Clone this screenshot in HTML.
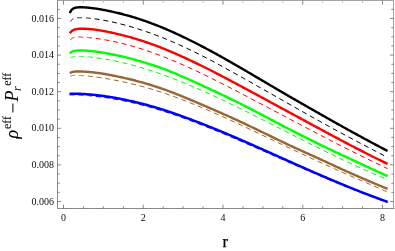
<!DOCTYPE html>
<html><head><meta charset="utf-8"><title>plot</title>
<style>
html,body{margin:0;padding:0;background:#fff;}
body{width:395px;height:251px;overflow:hidden;font-family:"Liberation Serif",serif;}
svg{display:block;font-family:"Liberation Serif",serif;will-change:transform;}
</style></head><body>
<svg width="395" height="251" viewBox="0 0 395 251">
<rect width="395" height="251" fill="#fff"/>
<g><path d="M69.90 13.13 L70.15 12.43 L70.40 11.83 L70.65 11.32 L70.90 10.87 L71.15 10.47 L71.40 10.13 L71.65 9.83 L71.90 9.56 L72.15 9.32 L72.40 9.11 L72.65 8.92 L72.90 8.75 L73.15 8.60 L73.40 8.46 L73.65 8.34 L73.90 8.23 L74.15 8.13 L74.40 8.04 L74.65 7.96 L74.90 7.88 L75.15 7.81 L75.40 7.75 L75.65 7.69 L75.90 7.64 L76.15 7.60 L76.40 7.56 L76.65 7.52 L76.90 7.48 L77.15 7.45 L77.40 7.42 L77.65 7.40 L77.90 7.38 L78.15 7.36 L78.40 7.34 L78.65 7.32 L78.90 7.31 L79.15 7.30 L79.40 7.29 L79.65 7.28 L79.90 7.28 L80.15 7.27 L80.40 7.27 L80.65 7.27 L80.90 7.27 L81.15 7.27 L81.40 7.27 L81.65 7.28 L81.90 7.28 L82.15 7.29 L82.40 7.30 L82.65 7.30 L82.90 7.31 L83.15 7.32 L83.40 7.33 L83.65 7.34 L83.90 7.35 L84.15 7.37 L84.40 7.38 L84.65 7.40 L84.90 7.41 L85.15 7.43 L85.40 7.44 L85.65 7.46 L85.90 7.48 L86.15 7.50 L86.40 7.51 L86.65 7.53 L86.90 7.55 L87.15 7.58 L87.40 7.60 L87.65 7.62 L87.90 7.64 L88.15 7.66 L88.40 7.69 L88.65 7.71 L88.90 7.74 L89.15 7.76 L89.40 7.79 L89.65 7.81 L89.90 7.84 L90.00 7.85 L91.00 7.96 L92.00 8.08 L93.00 8.21 L94.00 8.34 L95.00 8.48 L96.00 8.63 L97.00 8.78 L98.00 8.94 L99.00 9.10 L100.00 9.27 L101.00 9.45 L102.00 9.62 L103.00 9.81 L104.00 10.00 L105.00 10.19 L106.00 10.39 L107.00 10.59 L108.00 10.80 L109.00 11.01 L110.00 11.22 L111.00 11.44 L112.00 11.66 L113.00 11.88 L114.00 12.11 L115.00 12.34 L116.00 12.57 L117.00 12.81 L118.00 13.04 L119.00 13.28 L120.00 13.53 L121.00 13.77 L122.00 14.02 L123.00 14.28 L124.00 14.54 L125.00 14.80 L126.00 15.07 L127.00 15.34 L128.00 15.62 L129.00 15.90 L130.00 16.19 L131.00 16.48 L132.00 16.77 L133.00 17.07 L134.00 17.38 L135.00 17.68 L136.00 17.99 L137.00 18.31 L138.00 18.63 L139.00 18.95 L140.00 19.28 L141.00 19.61 L142.00 19.95 L143.00 20.29 L144.00 20.63 L145.00 20.98 L146.00 21.33 L147.00 21.69 L148.00 22.05 L149.00 22.41 L150.00 22.78 L151.00 23.15 L152.00 23.52 L153.00 23.90 L154.00 24.28 L155.00 24.67 L156.00 25.06 L157.00 25.45 L158.00 25.85 L159.00 26.25 L160.00 26.65 L161.00 27.06 L162.00 27.47 L163.00 27.88 L164.00 28.30 L165.00 28.72 L166.00 29.14 L167.00 29.57 L168.00 30.00 L169.00 30.44 L170.00 30.87 L171.00 31.31 L172.00 31.75 L173.00 32.20 L174.00 32.65 L175.00 33.10 L176.00 33.56 L177.00 34.02 L178.00 34.48 L179.00 34.94 L180.00 35.41 L181.00 35.88 L182.00 36.35 L183.00 36.82 L184.00 37.30 L185.00 37.78 L186.00 38.27 L187.00 38.75 L188.00 39.24 L189.00 39.73 L190.00 40.23 L191.00 40.72 L192.00 41.22 L193.00 41.72 L194.00 42.23 L195.00 42.73 L196.00 43.24 L197.00 43.75 L198.00 44.26 L199.00 44.78 L200.00 45.30 L201.00 45.82 L202.00 46.34 L203.00 46.86 L204.00 47.39 L205.00 47.92 L206.00 48.45 L207.00 48.98 L208.00 49.51 L209.00 50.05 L210.00 50.59 L211.00 51.13 L212.00 51.67 L213.00 52.22 L214.00 52.76 L215.00 53.31 L216.00 53.86 L217.00 54.42 L218.00 54.97 L219.00 55.52 L220.00 56.08 L221.00 56.64 L222.00 57.20 L223.00 57.76 L224.00 58.32 L225.00 58.89 L226.00 59.45 L227.00 60.02 L228.00 60.59 L229.00 61.16 L230.00 61.73 L231.00 62.30 L232.00 62.87 L233.00 63.45 L234.00 64.02 L235.00 64.60 L236.00 65.18 L237.00 65.75 L238.00 66.33 L239.00 66.91 L240.00 67.49 L241.00 68.07 L242.00 68.65 L243.00 69.24 L244.00 69.82 L245.00 70.40 L246.00 70.99 L247.00 71.57 L248.00 72.16 L249.00 72.74 L250.00 73.33 L251.00 73.91 L252.00 74.50 L253.00 75.08 L254.00 75.67 L255.00 76.26 L256.00 76.84 L257.00 77.43 L258.00 78.02 L259.00 78.61 L260.00 79.19 L261.00 79.78 L262.00 80.37 L263.00 80.96 L264.00 81.55 L265.00 82.13 L266.00 82.72 L267.00 83.31 L268.00 83.90 L269.00 84.49 L270.00 85.07 L271.00 85.66 L272.00 86.25 L273.00 86.84 L274.00 87.43 L275.00 88.01 L276.00 88.60 L277.00 89.19 L278.00 89.78 L279.00 90.36 L280.00 90.95 L281.00 91.54 L282.00 92.12 L283.00 92.71 L284.00 93.29 L285.00 93.88 L286.00 94.46 L287.00 95.04 L288.00 95.63 L289.00 96.20 L290.00 96.78 L291.00 97.36 L292.00 97.94 L293.00 98.51 L294.00 99.09 L295.00 99.66 L296.00 100.23 L297.00 100.81 L298.00 101.38 L299.00 101.95 L300.00 102.52 L301.00 103.10 L302.00 103.67 L303.00 104.24 L304.00 104.81 L305.00 105.39 L306.00 105.96 L307.00 106.53 L308.00 107.11 L309.00 107.68 L310.00 108.25 L311.00 108.82 L312.00 109.39 L313.00 109.96 L314.00 110.53 L315.00 111.10 L316.00 111.67 L317.00 112.24 L318.00 112.81 L319.00 113.38 L320.00 113.95 L321.00 114.52 L322.00 115.09 L323.00 115.66 L324.00 116.23 L325.00 116.80 L326.00 117.37 L327.00 117.94 L328.00 118.50 L329.00 119.07 L330.00 119.64 L331.00 120.20 L332.00 120.77 L333.00 121.33 L334.00 121.90 L335.00 122.46 L336.00 123.02 L337.00 123.58 L338.00 124.14 L339.00 124.70 L340.00 125.26 L341.00 125.82 L342.00 126.38 L343.00 126.94 L344.00 127.49 L345.00 128.05 L346.00 128.60 L347.00 129.16 L348.00 129.71 L349.00 130.26 L350.00 130.81 L351.00 131.36 L352.00 131.91 L353.00 132.46 L354.00 133.00 L355.00 133.55 L356.00 134.10 L357.00 134.64 L358.00 135.19 L359.00 135.73 L360.00 136.27 L361.00 136.81 L362.00 137.35 L363.00 137.90 L364.00 138.44 L365.00 138.97 L366.00 139.51 L367.00 140.05 L368.00 140.59 L369.00 141.13 L370.00 141.66 L371.00 142.20 L372.00 142.73 L373.00 143.27 L374.00 143.80 L375.00 144.33 L376.00 144.87 L377.00 145.40 L378.00 145.93 L379.00 146.46 L380.00 146.99 L381.00 147.53 L382.00 148.06 L383.00 148.59 L384.00 149.11 L385.00 149.64 L386.00 150.17 L387.00 150.70 L387.60 151.02" fill="none" stroke="#000000" stroke-width="2.4" stroke-linejoin="round"/><path d="M70.40 21.42 L70.65 21.06 L70.90 20.74 L71.15 20.46 L71.40 20.20 L71.65 19.97 L71.90 19.76 L72.15 19.57 L72.40 19.40 L72.65 19.24 L72.90 19.10 L73.15 18.97 L73.40 18.85 L73.65 18.74 L73.90 18.64 L74.15 18.55 L74.40 18.46 L74.65 18.39 L74.90 18.32 L75.15 18.25 L75.40 18.19 L75.65 18.14 L75.90 18.09 L76.15 18.05 L76.40 18.00 L76.65 17.97 L76.90 17.93 L77.15 17.90 L77.40 17.87 L77.65 17.85 L77.90 17.83 L78.15 17.81 L78.40 17.79 L78.65 17.77 L78.90 17.76 L79.15 17.75 L79.40 17.74 L79.65 17.73 L79.90 17.72 L80.15 17.72 L80.40 17.71 L80.65 17.71 L80.90 17.71 L81.15 17.71 L81.40 17.71 L81.65 17.71 L81.90 17.72 L82.15 17.72 L82.40 17.73 L82.65 17.74 L82.90 17.74 L83.15 17.75 L83.40 17.76 L83.65 17.77 L83.90 17.78 L84.15 17.80 L84.40 17.81 L84.65 17.82 L84.90 17.84 L85.15 17.85 L85.40 17.87 L85.65 17.88 L85.90 17.90 L86.15 17.92 L86.40 17.93 L86.65 17.95 L86.90 17.97 L87.15 17.99 L87.40 18.01 L87.65 18.03 L87.90 18.05 L88.15 18.08 L88.40 18.10 L88.65 18.12 L88.90 18.14 L89.15 18.17 L89.40 18.19 L89.65 18.22 L89.90 18.24 L90.00 18.25 L91.00 18.36 L92.00 18.47 L93.00 18.59 L94.00 18.72 L95.00 18.85 L96.00 18.99 L97.00 19.13 L98.00 19.28 L99.00 19.44 L100.00 19.60 L101.00 19.77 L102.00 19.94 L103.00 20.12 L104.00 20.30 L105.00 20.48 L106.00 20.68 L107.00 20.87 L108.00 21.07 L109.00 21.28 L110.00 21.49 L111.00 21.70 L112.00 21.92 L113.00 22.14 L114.00 22.37 L115.00 22.60 L116.00 22.83 L117.00 23.07 L118.00 23.31 L119.00 23.56 L120.00 23.81 L121.00 24.06 L122.00 24.32 L123.00 24.58 L124.00 24.84 L125.00 25.11 L126.00 25.38 L127.00 25.65 L128.00 25.93 L129.00 26.21 L130.00 26.50 L131.00 26.78 L132.00 27.07 L133.00 27.37 L134.00 27.67 L135.00 27.97 L136.00 28.28 L137.00 28.58 L138.00 28.90 L139.00 29.22 L140.00 29.54 L141.00 29.86 L142.00 30.19 L143.00 30.52 L144.00 30.85 L145.00 31.19 L146.00 31.54 L147.00 31.88 L148.00 32.23 L149.00 32.58 L150.00 32.94 L151.00 33.30 L152.00 33.66 L153.00 34.03 L154.00 34.40 L155.00 34.77 L156.00 35.15 L157.00 35.53 L158.00 35.92 L159.00 36.30 L160.00 36.69 L161.00 37.09 L162.00 37.48 L163.00 37.88 L164.00 38.29 L165.00 38.69 L166.00 39.10 L167.00 39.52 L168.00 39.93 L169.00 40.35 L170.00 40.77 L171.00 41.20 L172.00 41.62 L173.00 42.06 L174.00 42.49 L175.00 42.93 L176.00 43.37 L177.00 43.81 L178.00 44.25 L179.00 44.70 L180.00 45.15 L181.00 45.61 L182.00 46.06 L183.00 46.52 L184.00 46.98 L185.00 47.45 L186.00 47.91 L187.00 48.38 L188.00 48.86 L189.00 49.33 L190.00 49.81 L191.00 50.29 L192.00 50.77 L193.00 51.26 L194.00 51.74 L195.00 52.23 L196.00 52.72 L197.00 53.22 L198.00 53.71 L199.00 54.21 L200.00 54.71 L201.00 55.22 L202.00 55.72 L203.00 56.23 L204.00 56.74 L205.00 57.25 L206.00 57.76 L207.00 58.28 L208.00 58.80 L209.00 59.32 L210.00 59.84 L211.00 60.36 L212.00 60.89 L213.00 61.42 L214.00 61.95 L215.00 62.49 L216.00 63.04 L217.00 63.59 L218.00 64.14 L219.00 64.69 L220.00 65.25 L221.00 65.81 L222.00 66.37 L223.00 66.92 L224.00 67.48 L225.00 68.04 L226.00 68.59 L227.00 69.14 L228.00 69.69 L229.00 70.23 L230.00 70.78 L231.00 71.33 L232.00 71.88 L233.00 72.44 L234.00 72.99 L235.00 73.54 L236.00 74.09 L237.00 74.64 L238.00 75.20 L239.00 75.75 L240.00 76.31 L241.00 76.86 L242.00 77.42 L243.00 77.98 L244.00 78.54 L245.00 79.09 L246.00 79.65 L247.00 80.21 L248.00 80.77 L249.00 81.33 L250.00 81.89 L251.00 82.45 L252.00 83.02 L253.00 83.58 L254.00 84.14 L255.00 84.71 L256.00 85.27 L257.00 85.84 L258.00 86.40 L259.00 86.97 L260.00 87.54 L261.00 88.11 L262.00 88.67 L263.00 89.24 L264.00 89.81 L265.00 90.38 L266.00 90.94 L267.00 91.51 L268.00 92.08 L269.00 92.64 L270.00 93.21 L271.00 93.78 L272.00 94.35 L273.00 94.91 L274.00 95.48 L275.00 96.05 L276.00 96.61 L277.00 97.18 L278.00 97.75 L279.00 98.31 L280.00 98.88 L281.00 99.45 L282.00 100.01 L283.00 100.58 L284.00 101.14 L285.00 101.71 L286.00 102.28 L287.00 102.84 L288.00 103.41 L289.00 103.98 L290.00 104.54 L291.00 105.11 L292.00 105.67 L293.00 106.24 L294.00 106.81 L295.00 107.37 L296.00 107.94 L297.00 108.50 L298.00 109.07 L299.00 109.64 L300.00 110.20 L301.00 110.77 L302.00 111.33 L303.00 111.90 L304.00 112.47 L305.00 113.03 L306.00 113.60 L307.00 114.16 L308.00 114.72 L309.00 115.29 L310.00 115.85 L311.00 116.41 L312.00 116.97 L313.00 117.53 L314.00 118.09 L315.00 118.65 L316.00 119.21 L317.00 119.77 L318.00 120.32 L319.00 120.88 L320.00 121.44 L321.00 121.99 L322.00 122.54 L323.00 123.10 L324.00 123.65 L325.00 124.20 L326.00 124.75 L327.00 125.30 L328.00 125.85 L329.00 126.40 L330.00 126.95 L331.00 127.49 L332.00 128.04 L333.00 128.59 L334.00 129.13 L335.00 129.67 L336.00 130.22 L337.00 130.76 L338.00 131.30 L339.00 131.84 L340.00 132.38 L341.00 132.92 L342.00 133.46 L343.00 134.00 L344.00 134.53 L345.00 135.07 L346.00 135.61 L347.00 136.14 L348.00 136.67 L349.00 137.21 L350.00 137.74 L351.00 138.27 L352.00 138.80 L353.00 139.34 L354.00 139.87 L355.00 140.40 L356.00 140.92 L357.00 141.45 L358.00 141.98 L359.00 142.51 L360.00 143.04 L361.00 143.56 L362.00 144.09 L363.00 144.61 L364.00 145.14 L365.00 145.66 L366.00 146.19 L367.00 146.71 L368.00 147.23 L369.00 147.76 L370.00 148.28 L371.00 148.80 L372.00 149.33 L373.00 149.85 L374.00 150.37 L375.00 150.89 L376.00 151.41 L377.00 151.93 L378.00 152.46 L379.00 152.98 L380.00 153.50 L381.00 154.02 L382.00 154.54 L383.00 155.06 L384.00 155.58 L385.00 156.11 L386.00 156.63 L387.00 157.15 L387.60 157.46" fill="none" stroke="#000000" stroke-width="1.0" stroke-dasharray="5.0 3.8" stroke-dashoffset="1.0" stroke-linejoin="round"/><path d="M69.90 33.33 L70.15 32.90 L70.40 32.51 L70.65 32.16 L70.90 31.85 L71.15 31.57 L71.40 31.33 L71.65 31.11 L71.90 30.92 L72.15 30.74 L72.40 30.58 L72.65 30.43 L72.90 30.30 L73.15 30.17 L73.40 30.06 L73.65 29.95 L73.90 29.85 L74.15 29.76 L74.40 29.68 L74.65 29.59 L74.90 29.52 L75.15 29.45 L75.40 29.38 L75.65 29.32 L75.90 29.26 L76.15 29.20 L76.40 29.15 L76.65 29.10 L76.90 29.06 L77.15 29.02 L77.40 28.98 L77.65 28.94 L77.90 28.91 L78.15 28.88 L78.40 28.85 L78.65 28.82 L78.90 28.80 L79.15 28.78 L79.40 28.76 L79.65 28.75 L79.90 28.73 L80.15 28.72 L80.40 28.71 L80.65 28.71 L80.90 28.70 L81.15 28.70 L81.40 28.69 L81.65 28.69 L81.90 28.69 L82.15 28.69 L82.40 28.69 L82.65 28.69 L82.90 28.69 L83.15 28.70 L83.40 28.70 L83.65 28.71 L83.90 28.71 L84.15 28.72 L84.40 28.73 L84.65 28.74 L84.90 28.75 L85.15 28.76 L85.40 28.77 L85.65 28.78 L85.90 28.79 L86.15 28.81 L86.40 28.82 L86.65 28.83 L86.90 28.85 L87.15 28.87 L87.40 28.88 L87.65 28.90 L87.90 28.92 L88.15 28.94 L88.40 28.96 L88.65 28.98 L88.90 29.00 L89.15 29.02 L89.40 29.04 L89.65 29.06 L89.90 29.09 L90.00 29.09 L91.00 29.19 L92.00 29.30 L93.00 29.41 L94.00 29.53 L95.00 29.66 L96.00 29.80 L97.00 29.94 L98.00 30.09 L99.00 30.24 L100.00 30.40 L101.00 30.57 L102.00 30.74 L103.00 30.92 L104.00 31.10 L105.00 31.28 L106.00 31.48 L107.00 31.67 L108.00 31.87 L109.00 32.07 L110.00 32.28 L111.00 32.50 L112.00 32.71 L113.00 32.93 L114.00 33.15 L115.00 33.38 L116.00 33.61 L117.00 33.84 L118.00 34.07 L119.00 34.31 L120.00 34.55 L121.00 34.79 L122.00 35.04 L123.00 35.29 L124.00 35.55 L125.00 35.81 L126.00 36.07 L127.00 36.34 L128.00 36.61 L129.00 36.89 L130.00 37.17 L131.00 37.45 L132.00 37.74 L133.00 38.03 L134.00 38.32 L135.00 38.62 L136.00 38.92 L137.00 39.23 L138.00 39.54 L139.00 39.85 L140.00 40.17 L141.00 40.49 L142.00 40.81 L143.00 41.14 L144.00 41.47 L145.00 41.81 L146.00 42.15 L147.00 42.49 L148.00 42.84 L149.00 43.18 L150.00 43.54 L151.00 43.89 L152.00 44.25 L153.00 44.61 L154.00 44.98 L155.00 45.35 L156.00 45.72 L157.00 46.10 L158.00 46.48 L159.00 46.86 L160.00 47.24 L161.00 47.63 L162.00 48.03 L163.00 48.42 L164.00 48.82 L165.00 49.23 L166.00 49.63 L167.00 50.04 L168.00 50.45 L169.00 50.87 L170.00 51.29 L171.00 51.71 L172.00 52.14 L173.00 52.56 L174.00 53.00 L175.00 53.43 L176.00 53.87 L177.00 54.31 L178.00 54.75 L179.00 55.19 L180.00 55.64 L181.00 56.09 L182.00 56.54 L183.00 57.00 L184.00 57.45 L185.00 57.91 L186.00 58.37 L187.00 58.84 L188.00 59.30 L189.00 59.77 L190.00 60.24 L191.00 60.72 L192.00 61.19 L193.00 61.67 L194.00 62.14 L195.00 62.62 L196.00 63.11 L197.00 63.59 L198.00 64.07 L199.00 64.56 L200.00 65.05 L201.00 65.54 L202.00 66.03 L203.00 66.52 L204.00 67.02 L205.00 67.51 L206.00 68.01 L207.00 68.51 L208.00 69.01 L209.00 69.51 L210.00 70.02 L211.00 70.53 L212.00 71.03 L213.00 71.54 L214.00 72.05 L215.00 72.57 L216.00 73.08 L217.00 73.60 L218.00 74.11 L219.00 74.63 L220.00 75.15 L221.00 75.67 L222.00 76.19 L223.00 76.72 L224.00 77.24 L225.00 77.76 L226.00 78.29 L227.00 78.82 L228.00 79.35 L229.00 79.87 L230.00 80.40 L231.00 80.93 L232.00 81.47 L233.00 82.00 L234.00 82.53 L235.00 83.06 L236.00 83.60 L237.00 84.13 L238.00 84.67 L239.00 85.20 L240.00 85.74 L241.00 86.28 L242.00 86.81 L243.00 87.35 L244.00 87.89 L245.00 88.42 L246.00 88.96 L247.00 89.50 L248.00 90.04 L249.00 90.58 L250.00 91.11 L251.00 91.65 L252.00 92.19 L253.00 92.73 L254.00 93.27 L255.00 93.80 L256.00 94.34 L257.00 94.88 L258.00 95.42 L259.00 95.96 L260.00 96.50 L261.00 97.04 L262.00 97.58 L263.00 98.12 L264.00 98.66 L265.00 99.20 L266.00 99.74 L267.00 100.28 L268.00 100.82 L269.00 101.36 L270.00 101.90 L271.00 102.44 L272.00 102.98 L273.00 103.53 L274.00 104.07 L275.00 104.61 L276.00 105.15 L277.00 105.70 L278.00 106.24 L279.00 106.78 L280.00 107.33 L281.00 107.87 L282.00 108.42 L283.00 108.96 L284.00 109.51 L285.00 110.05 L286.00 110.59 L287.00 111.14 L288.00 111.68 L289.00 112.23 L290.00 112.77 L291.00 113.31 L292.00 113.85 L293.00 114.40 L294.00 114.94 L295.00 115.48 L296.00 116.02 L297.00 116.56 L298.00 117.10 L299.00 117.64 L300.00 118.18 L301.00 118.72 L302.00 119.26 L303.00 119.80 L304.00 120.34 L305.00 120.88 L306.00 121.42 L307.00 121.96 L308.00 122.50 L309.00 123.04 L310.00 123.58 L311.00 124.12 L312.00 124.66 L313.00 125.20 L314.00 125.74 L315.00 126.28 L316.00 126.82 L317.00 127.36 L318.00 127.89 L319.00 128.43 L320.00 128.97 L321.00 129.51 L322.00 130.05 L323.00 130.60 L324.00 131.14 L325.00 131.68 L326.00 132.21 L327.00 132.75 L328.00 133.29 L329.00 133.83 L330.00 134.37 L331.00 134.90 L332.00 135.44 L333.00 135.98 L334.00 136.51 L335.00 137.05 L336.00 137.58 L337.00 138.11 L338.00 138.65 L339.00 139.18 L340.00 139.71 L341.00 140.24 L342.00 140.77 L343.00 141.30 L344.00 141.82 L345.00 142.35 L346.00 142.88 L347.00 143.40 L348.00 143.93 L349.00 144.45 L350.00 144.97 L351.00 145.50 L352.00 146.02 L353.00 146.54 L354.00 147.06 L355.00 147.57 L356.00 148.09 L357.00 148.61 L358.00 149.12 L359.00 149.64 L360.00 150.15 L361.00 150.66 L362.00 151.17 L363.00 151.68 L364.00 152.19 L365.00 152.70 L366.00 153.21 L367.00 153.71 L368.00 154.22 L369.00 154.72 L370.00 155.22 L371.00 155.73 L372.00 156.23 L373.00 156.73 L374.00 157.22 L375.00 157.72 L376.00 158.22 L377.00 158.71 L378.00 159.21 L379.00 159.70 L380.00 160.19 L381.00 160.68 L382.00 161.17 L383.00 161.66 L384.00 162.15 L385.00 162.63 L386.00 163.12 L387.00 163.60 L387.60 163.89" fill="none" stroke="#ff0000" stroke-width="2.4" stroke-linejoin="round"/><path d="M70.40 40.04 L70.65 39.65 L70.90 39.31 L71.15 39.02 L71.40 38.76 L71.65 38.54 L71.90 38.35 L72.15 38.18 L72.40 38.03 L72.65 37.90 L72.90 37.78 L73.15 37.68 L73.40 37.59 L73.65 37.51 L73.90 37.44 L74.15 37.37 L74.40 37.32 L74.65 37.27 L74.90 37.23 L75.15 37.19 L75.40 37.16 L75.65 37.13 L75.90 37.10 L76.15 37.08 L76.40 37.06 L76.65 37.05 L76.90 37.03 L77.15 37.02 L77.40 37.01 L77.65 37.01 L77.90 37.00 L78.15 37.00 L78.40 37.00 L78.65 37.00 L78.90 37.00 L79.15 37.00 L79.40 37.00 L79.65 37.01 L79.90 37.01 L80.15 37.02 L80.40 37.02 L80.65 37.03 L80.90 37.04 L81.15 37.05 L81.40 37.06 L81.65 37.07 L81.90 37.08 L82.15 37.09 L82.40 37.10 L82.65 37.12 L82.90 37.13 L83.15 37.15 L83.40 37.16 L83.65 37.18 L83.90 37.19 L84.15 37.21 L84.40 37.23 L84.65 37.25 L84.90 37.26 L85.15 37.28 L85.40 37.30 L85.65 37.32 L85.90 37.34 L86.15 37.36 L86.40 37.39 L86.65 37.41 L86.90 37.43 L87.15 37.45 L87.40 37.47 L87.65 37.50 L87.90 37.52 L88.15 37.54 L88.40 37.57 L88.65 37.59 L88.90 37.62 L89.15 37.64 L89.40 37.67 L89.65 37.69 L89.90 37.72 L90.00 37.73 L91.00 37.84 L92.00 37.95 L93.00 38.07 L94.00 38.20 L95.00 38.32 L96.00 38.46 L97.00 38.59 L98.00 38.74 L99.00 38.88 L100.00 39.03 L101.00 39.19 L102.00 39.35 L103.00 39.51 L104.00 39.68 L105.00 39.85 L106.00 40.03 L107.00 40.21 L108.00 40.39 L109.00 40.58 L110.00 40.77 L111.00 40.97 L112.00 41.17 L113.00 41.38 L114.00 41.59 L115.00 41.80 L116.00 42.02 L117.00 42.24 L118.00 42.46 L119.00 42.69 L120.00 42.93 L121.00 43.16 L122.00 43.41 L123.00 43.65 L124.00 43.90 L125.00 44.15 L126.00 44.41 L127.00 44.67 L128.00 44.94 L129.00 45.21 L130.00 45.48 L131.00 45.76 L132.00 46.04 L133.00 46.32 L134.00 46.61 L135.00 46.90 L136.00 47.20 L137.00 47.50 L138.00 47.80 L139.00 48.11 L140.00 48.42 L141.00 48.74 L142.00 49.05 L143.00 49.38 L144.00 49.70 L145.00 50.03 L146.00 50.37 L147.00 50.70 L148.00 51.04 L149.00 51.39 L150.00 51.73 L151.00 52.08 L152.00 52.44 L153.00 52.80 L154.00 53.16 L155.00 53.52 L156.00 53.89 L157.00 54.26 L158.00 54.63 L159.00 55.01 L160.00 55.39 L161.00 55.77 L162.00 56.16 L163.00 56.55 L164.00 56.94 L165.00 57.33 L166.00 57.73 L167.00 58.13 L168.00 58.53 L169.00 58.94 L170.00 59.35 L171.00 59.76 L172.00 60.18 L173.00 60.59 L174.00 61.01 L175.00 61.44 L176.00 61.86 L177.00 62.29 L178.00 62.72 L179.00 63.15 L180.00 63.59 L181.00 64.02 L182.00 64.46 L183.00 64.90 L184.00 65.35 L185.00 65.80 L186.00 66.24 L187.00 66.70 L188.00 67.15 L189.00 67.60 L190.00 68.06 L191.00 68.52 L192.00 68.98 L193.00 69.44 L194.00 69.91 L195.00 70.38 L196.00 70.84 L197.00 71.31 L198.00 71.79 L199.00 72.26 L200.00 72.74 L201.00 73.21 L202.00 73.69 L203.00 74.17 L204.00 74.66 L205.00 75.14 L206.00 75.62 L207.00 76.11 L208.00 76.60 L209.00 77.09 L210.00 77.58 L211.00 78.07 L212.00 78.56 L213.00 79.06 L214.00 79.55 L215.00 80.05 L216.00 80.55 L217.00 81.05 L218.00 81.55 L219.00 82.05 L220.00 82.56 L221.00 83.06 L222.00 83.57 L223.00 84.07 L224.00 84.58 L225.00 85.09 L226.00 85.60 L227.00 86.11 L228.00 86.63 L229.00 87.14 L230.00 87.65 L231.00 88.17 L232.00 88.69 L233.00 89.20 L234.00 89.72 L235.00 90.24 L236.00 90.76 L237.00 91.28 L238.00 91.81 L239.00 92.33 L240.00 92.85 L241.00 93.38 L242.00 93.90 L243.00 94.43 L244.00 94.95 L245.00 95.48 L246.00 96.01 L247.00 96.53 L248.00 97.06 L249.00 97.59 L250.00 98.12 L251.00 98.65 L252.00 99.18 L253.00 99.71 L254.00 100.24 L255.00 100.76 L256.00 101.29 L257.00 101.82 L258.00 102.34 L259.00 102.87 L260.00 103.40 L261.00 103.92 L262.00 104.45 L263.00 104.97 L264.00 105.50 L265.00 106.02 L266.00 106.55 L267.00 107.07 L268.00 107.59 L269.00 108.12 L270.00 108.64 L271.00 109.17 L272.00 109.69 L273.00 110.21 L274.00 110.74 L275.00 111.26 L276.00 111.78 L277.00 112.31 L278.00 112.83 L279.00 113.36 L280.00 113.88 L281.00 114.40 L282.00 114.93 L283.00 115.45 L284.00 115.98 L285.00 116.50 L286.00 117.03 L287.00 117.55 L288.00 118.08 L289.00 118.61 L290.00 119.13 L291.00 119.66 L292.00 120.19 L293.00 120.71 L294.00 121.24 L295.00 121.77 L296.00 122.30 L297.00 122.83 L298.00 123.36 L299.00 123.89 L300.00 124.42 L301.00 124.95 L302.00 125.48 L303.00 126.01 L304.00 126.54 L305.00 127.07 L306.00 127.60 L307.00 128.13 L308.00 128.66 L309.00 129.18 L310.00 129.71 L311.00 130.24 L312.00 130.76 L313.00 131.29 L314.00 131.81 L315.00 132.34 L316.00 132.86 L317.00 133.38 L318.00 133.91 L319.00 134.43 L320.00 134.95 L321.00 135.47 L322.00 135.99 L323.00 136.51 L324.00 137.03 L325.00 137.55 L326.00 138.07 L327.00 138.59 L328.00 139.10 L329.00 139.62 L330.00 140.14 L331.00 140.65 L332.00 141.17 L333.00 141.68 L334.00 142.19 L335.00 142.70 L336.00 143.22 L337.00 143.73 L338.00 144.24 L339.00 144.75 L340.00 145.25 L341.00 145.76 L342.00 146.27 L343.00 146.78 L344.00 147.28 L345.00 147.79 L346.00 148.29 L347.00 148.80 L348.00 149.30 L349.00 149.80 L350.00 150.30 L351.00 150.80 L352.00 151.30 L353.00 151.80 L354.00 152.30 L355.00 152.80 L356.00 153.30 L357.00 153.79 L358.00 154.29 L359.00 154.79 L360.00 155.28 L361.00 155.78 L362.00 156.27 L363.00 156.76 L364.00 157.25 L365.00 157.75 L366.00 158.24 L367.00 158.73 L368.00 159.22 L369.00 159.71 L370.00 160.19 L371.00 160.68 L372.00 161.17 L373.00 161.65 L374.00 162.14 L375.00 162.62 L376.00 163.10 L377.00 163.59 L378.00 164.07 L379.00 164.55 L380.00 165.03 L381.00 165.52 L382.00 166.00 L383.00 166.48 L384.00 166.96 L385.00 167.44 L386.00 167.93 L387.00 168.41 L387.60 168.70" fill="none" stroke="#ff0000" stroke-width="1.0" stroke-dasharray="5.0 3.8" stroke-linejoin="round"/><path d="M69.90 53.50 L70.15 53.19 L70.40 52.91 L70.65 52.65 L70.90 52.42 L71.15 52.22 L71.40 52.05 L71.65 51.89 L71.90 51.76 L72.15 51.63 L72.40 51.51 L72.65 51.41 L72.90 51.31 L73.15 51.22 L73.40 51.14 L73.65 51.07 L73.90 51.01 L74.15 50.96 L74.40 50.91 L74.65 50.87 L74.90 50.83 L75.15 50.79 L75.40 50.75 L75.65 50.72 L75.90 50.69 L76.15 50.66 L76.40 50.64 L76.65 50.61 L76.90 50.59 L77.15 50.57 L77.40 50.56 L77.65 50.54 L77.90 50.53 L78.15 50.51 L78.40 50.50 L78.65 50.49 L78.90 50.48 L79.15 50.48 L79.40 50.47 L79.65 50.47 L79.90 50.46 L80.15 50.46 L80.40 50.46 L80.65 50.46 L80.90 50.46 L81.15 50.46 L81.40 50.46 L81.65 50.47 L81.90 50.47 L82.15 50.48 L82.40 50.48 L82.65 50.49 L82.90 50.50 L83.15 50.50 L83.40 50.51 L83.65 50.52 L83.90 50.53 L84.15 50.54 L84.40 50.55 L84.65 50.57 L84.90 50.58 L85.15 50.59 L85.40 50.60 L85.65 50.62 L85.90 50.63 L86.15 50.65 L86.40 50.67 L86.65 50.68 L86.90 50.70 L87.15 50.72 L87.40 50.73 L87.65 50.75 L87.90 50.77 L88.15 50.79 L88.40 50.81 L88.65 50.83 L88.90 50.85 L89.15 50.88 L89.40 50.90 L89.65 50.92 L89.90 50.94 L90.00 50.95 L91.00 51.05 L92.00 51.15 L93.00 51.26 L94.00 51.38 L95.00 51.50 L96.00 51.63 L97.00 51.76 L98.00 51.90 L99.00 52.04 L100.00 52.19 L101.00 52.34 L102.00 52.50 L103.00 52.66 L104.00 52.83 L105.00 53.00 L106.00 53.18 L107.00 53.36 L108.00 53.54 L109.00 53.73 L110.00 53.92 L111.00 54.11 L112.00 54.31 L113.00 54.51 L114.00 54.72 L115.00 54.92 L116.00 55.13 L117.00 55.35 L118.00 55.56 L119.00 55.78 L120.00 56.00 L121.00 56.22 L122.00 56.45 L123.00 56.68 L124.00 56.92 L125.00 57.16 L126.00 57.40 L127.00 57.65 L128.00 57.90 L129.00 58.16 L130.00 58.42 L131.00 58.68 L132.00 58.94 L133.00 59.21 L134.00 59.49 L135.00 59.76 L136.00 60.04 L137.00 60.33 L138.00 60.61 L139.00 60.91 L140.00 61.20 L141.00 61.50 L142.00 61.79 L143.00 62.09 L144.00 62.39 L145.00 62.69 L146.00 62.99 L147.00 63.29 L148.00 63.59 L149.00 63.90 L150.00 64.21 L151.00 64.53 L152.00 64.85 L153.00 65.17 L154.00 65.49 L155.00 65.82 L156.00 66.16 L157.00 66.50 L158.00 66.84 L159.00 67.20 L160.00 67.55 L161.00 67.92 L162.00 68.28 L163.00 68.65 L164.00 69.03 L165.00 69.41 L166.00 69.80 L167.00 70.18 L168.00 70.58 L169.00 70.97 L170.00 71.37 L171.00 71.78 L172.00 72.18 L173.00 72.59 L174.00 73.01 L175.00 73.43 L176.00 73.85 L177.00 74.27 L178.00 74.69 L179.00 75.12 L180.00 75.55 L181.00 75.99 L182.00 76.42 L183.00 76.86 L184.00 77.30 L185.00 77.74 L186.00 78.19 L187.00 78.63 L188.00 79.08 L189.00 79.53 L190.00 79.98 L191.00 80.43 L192.00 80.88 L193.00 81.34 L194.00 81.79 L195.00 82.24 L196.00 82.70 L197.00 83.16 L198.00 83.61 L199.00 84.07 L200.00 84.53 L201.00 84.99 L202.00 85.44 L203.00 85.90 L204.00 86.36 L205.00 86.82 L206.00 87.27 L207.00 87.73 L208.00 88.19 L209.00 88.65 L210.00 89.12 L211.00 89.58 L212.00 90.04 L213.00 90.51 L214.00 90.98 L215.00 91.44 L216.00 91.91 L217.00 92.38 L218.00 92.85 L219.00 93.32 L220.00 93.80 L221.00 94.27 L222.00 94.75 L223.00 95.22 L224.00 95.70 L225.00 96.18 L226.00 96.66 L227.00 97.14 L228.00 97.63 L229.00 98.11 L230.00 98.60 L231.00 99.08 L232.00 99.57 L233.00 100.06 L234.00 100.55 L235.00 101.05 L236.00 101.54 L237.00 102.04 L238.00 102.53 L239.00 103.03 L240.00 103.53 L241.00 104.03 L242.00 104.54 L243.00 105.04 L244.00 105.55 L245.00 106.06 L246.00 106.57 L247.00 107.08 L248.00 107.59 L249.00 108.10 L250.00 108.62 L251.00 109.13 L252.00 109.65 L253.00 110.17 L254.00 110.69 L255.00 111.21 L256.00 111.73 L257.00 112.25 L258.00 112.77 L259.00 113.29 L260.00 113.82 L261.00 114.34 L262.00 114.86 L263.00 115.39 L264.00 115.91 L265.00 116.44 L266.00 116.96 L267.00 117.49 L268.00 118.02 L269.00 118.54 L270.00 119.07 L271.00 119.60 L272.00 120.12 L273.00 120.65 L274.00 121.18 L275.00 121.70 L276.00 122.23 L277.00 122.75 L278.00 123.28 L279.00 123.80 L280.00 124.33 L281.00 124.85 L282.00 125.38 L283.00 125.90 L284.00 126.42 L285.00 126.94 L286.00 127.46 L287.00 127.98 L288.00 128.50 L289.00 129.01 L290.00 129.53 L291.00 130.04 L292.00 130.56 L293.00 131.07 L294.00 131.58 L295.00 132.09 L296.00 132.60 L297.00 133.11 L298.00 133.62 L299.00 134.12 L300.00 134.63 L301.00 135.13 L302.00 135.64 L303.00 136.14 L304.00 136.64 L305.00 137.15 L306.00 137.65 L307.00 138.15 L308.00 138.65 L309.00 139.14 L310.00 139.64 L311.00 140.14 L312.00 140.64 L313.00 141.13 L314.00 141.63 L315.00 142.12 L316.00 142.62 L317.00 143.11 L318.00 143.60 L319.00 144.10 L320.00 144.59 L321.00 145.08 L322.00 145.57 L323.00 146.06 L324.00 146.55 L325.00 147.04 L326.00 147.52 L327.00 148.01 L328.00 148.49 L329.00 148.97 L330.00 149.44 L331.00 149.92 L332.00 150.39 L333.00 150.86 L334.00 151.33 L335.00 151.80 L336.00 152.27 L337.00 152.74 L338.00 153.20 L339.00 153.67 L340.00 154.13 L341.00 154.60 L342.00 155.06 L343.00 155.53 L344.00 155.99 L345.00 156.45 L346.00 156.92 L347.00 157.38 L348.00 157.85 L349.00 158.31 L350.00 158.78 L351.00 159.25 L352.00 159.72 L353.00 160.18 L354.00 160.66 L355.00 161.13 L356.00 161.60 L357.00 162.07 L358.00 162.55 L359.00 163.02 L360.00 163.49 L361.00 163.96 L362.00 164.43 L363.00 164.89 L364.00 165.36 L365.00 165.82 L366.00 166.29 L367.00 166.75 L368.00 167.21 L369.00 167.67 L370.00 168.13 L371.00 168.59 L372.00 169.05 L373.00 169.51 L374.00 169.96 L375.00 170.42 L376.00 170.87 L377.00 171.33 L378.00 171.78 L379.00 172.23 L380.00 172.68 L381.00 173.13 L382.00 173.59 L383.00 174.04 L384.00 174.48 L385.00 174.93 L386.00 175.38 L387.00 175.83 L387.60 176.10" fill="none" stroke="#00ff00" stroke-width="2.4" stroke-linejoin="round"/><path d="M70.40 57.89 L70.65 57.73 L70.90 57.59 L71.15 57.47 L71.40 57.35 L71.65 57.25 L71.90 57.16 L72.15 57.08 L72.40 57.01 L72.65 56.95 L72.90 56.89 L73.15 56.83 L73.40 56.79 L73.65 56.74 L73.90 56.71 L74.15 56.67 L74.40 56.64 L74.65 56.61 L74.90 56.59 L75.15 56.57 L75.40 56.55 L75.65 56.53 L75.90 56.52 L76.15 56.51 L76.40 56.50 L76.65 56.49 L76.90 56.48 L77.15 56.47 L77.40 56.47 L77.65 56.46 L77.90 56.46 L78.15 56.46 L78.40 56.46 L78.65 56.46 L78.90 56.46 L79.15 56.46 L79.40 56.46 L79.65 56.46 L79.90 56.46 L80.15 56.47 L80.40 56.47 L80.65 56.48 L80.90 56.48 L81.15 56.49 L81.40 56.50 L81.65 56.50 L81.90 56.51 L82.15 56.52 L82.40 56.53 L82.65 56.54 L82.90 56.55 L83.15 56.56 L83.40 56.58 L83.65 56.59 L83.90 56.60 L84.15 56.62 L84.40 56.63 L84.65 56.65 L84.90 56.66 L85.15 56.68 L85.40 56.69 L85.65 56.71 L85.90 56.73 L86.15 56.75 L86.40 56.76 L86.65 56.78 L86.90 56.80 L87.15 56.82 L87.40 56.84 L87.65 56.86 L87.90 56.88 L88.15 56.90 L88.40 56.93 L88.65 56.95 L88.90 56.97 L89.15 56.99 L89.40 57.01 L89.65 57.04 L89.90 57.06 L90.00 57.07 L91.00 57.17 L92.00 57.28 L93.00 57.39 L94.00 57.50 L95.00 57.62 L96.00 57.75 L97.00 57.88 L98.00 58.01 L99.00 58.15 L100.00 58.29 L101.00 58.44 L102.00 58.59 L103.00 58.75 L104.00 58.91 L105.00 59.08 L106.00 59.25 L107.00 59.42 L108.00 59.60 L109.00 59.78 L110.00 59.97 L111.00 60.16 L112.00 60.35 L113.00 60.55 L114.00 60.75 L115.00 60.96 L116.00 61.17 L117.00 61.38 L118.00 61.60 L119.00 61.82 L120.00 62.04 L121.00 62.27 L122.00 62.50 L123.00 62.74 L124.00 62.98 L125.00 63.22 L126.00 63.46 L127.00 63.71 L128.00 63.97 L129.00 64.22 L130.00 64.48 L131.00 64.74 L132.00 65.01 L133.00 65.28 L134.00 65.55 L135.00 65.83 L136.00 66.11 L137.00 66.39 L138.00 66.68 L139.00 66.97 L140.00 67.26 L141.00 67.55 L142.00 67.85 L143.00 68.15 L144.00 68.46 L145.00 68.77 L146.00 69.08 L147.00 69.39 L148.00 69.71 L149.00 70.03 L150.00 70.35 L151.00 70.67 L152.00 71.00 L153.00 71.33 L154.00 71.66 L155.00 72.00 L156.00 72.34 L157.00 72.68 L158.00 73.03 L159.00 73.37 L160.00 73.72 L161.00 74.08 L162.00 74.43 L163.00 74.79 L164.00 75.15 L165.00 75.51 L166.00 75.88 L167.00 76.24 L168.00 76.61 L169.00 76.99 L170.00 77.36 L171.00 77.74 L172.00 78.12 L173.00 78.50 L174.00 78.89 L175.00 79.27 L176.00 79.66 L177.00 80.05 L178.00 80.45 L179.00 80.85 L180.00 81.24 L181.00 81.64 L182.00 82.05 L183.00 82.45 L184.00 82.86 L185.00 83.27 L186.00 83.68 L187.00 84.09 L188.00 84.51 L189.00 84.93 L190.00 85.35 L191.00 85.77 L192.00 86.19 L193.00 86.62 L194.00 87.04 L195.00 87.47 L196.00 87.90 L197.00 88.34 L198.00 88.77 L199.00 89.21 L200.00 89.65 L201.00 90.09 L202.00 90.53 L203.00 90.97 L204.00 91.42 L205.00 91.87 L206.00 92.31 L207.00 92.77 L208.00 93.22 L209.00 93.67 L210.00 94.13 L211.00 94.58 L212.00 95.04 L213.00 95.50 L214.00 95.96 L215.00 96.43 L216.00 96.89 L217.00 97.36 L218.00 97.83 L219.00 98.29 L220.00 98.76 L221.00 99.24 L222.00 99.71 L223.00 100.18 L224.00 100.66 L225.00 101.13 L226.00 101.61 L227.00 102.09 L228.00 102.57 L229.00 103.05 L230.00 103.53 L231.00 104.01 L232.00 104.50 L233.00 104.98 L234.00 105.47 L235.00 105.95 L236.00 106.44 L237.00 106.93 L238.00 107.42 L239.00 107.91 L240.00 108.40 L241.00 108.89 L242.00 109.39 L243.00 109.88 L244.00 110.38 L245.00 110.87 L246.00 111.37 L247.00 111.87 L248.00 112.36 L249.00 112.86 L250.00 113.36 L251.00 113.86 L252.00 114.36 L253.00 114.86 L254.00 115.36 L255.00 115.86 L256.00 116.37 L257.00 116.87 L258.00 117.37 L259.00 117.88 L260.00 118.38 L261.00 118.89 L262.00 119.39 L263.00 119.90 L264.00 120.40 L265.00 120.91 L266.00 121.42 L267.00 121.93 L268.00 122.43 L269.00 122.94 L270.00 123.45 L271.00 123.96 L272.00 124.47 L273.00 124.97 L274.00 125.48 L275.00 125.99 L276.00 126.50 L277.00 127.01 L278.00 127.52 L279.00 128.03 L280.00 128.54 L281.00 129.05 L282.00 129.56 L283.00 130.07 L284.00 130.58 L285.00 131.09 L286.00 131.60 L287.00 132.11 L288.00 132.61 L289.00 133.12 L290.00 133.63 L291.00 134.14 L292.00 134.65 L293.00 135.16 L294.00 135.67 L295.00 136.17 L296.00 136.68 L297.00 137.19 L298.00 137.70 L299.00 138.20 L300.00 138.71 L301.00 139.22 L302.00 139.72 L303.00 140.23 L304.00 140.73 L305.00 141.24 L306.00 141.74 L307.00 142.24 L308.00 142.75 L309.00 143.25 L310.00 143.75 L311.00 144.25 L312.00 144.75 L313.00 145.25 L314.00 145.75 L315.00 146.25 L316.00 146.75 L317.00 147.25 L318.00 147.74 L319.00 148.24 L320.00 148.73 L321.00 149.23 L322.00 149.72 L323.00 150.22 L324.00 150.71 L325.00 151.20 L326.00 151.69 L327.00 152.18 L328.00 152.67 L329.00 153.16 L330.00 153.65 L331.00 154.13 L332.00 154.62 L333.00 155.10 L334.00 155.59 L335.00 156.07 L336.00 156.55 L337.00 157.03 L338.00 157.51 L339.00 157.99 L340.00 158.47 L341.00 158.94 L342.00 159.42 L343.00 159.89 L344.00 160.37 L345.00 160.84 L346.00 161.31 L347.00 161.78 L348.00 162.25 L349.00 162.71 L350.00 163.18 L351.00 163.64 L352.00 164.11 L353.00 164.57 L354.00 165.03 L355.00 165.49 L356.00 165.95 L357.00 166.40 L358.00 166.86 L359.00 167.31 L360.00 167.77 L361.00 168.22 L362.00 168.67 L363.00 169.11 L364.00 169.56 L365.00 170.01 L366.00 170.45 L367.00 170.89 L368.00 171.33 L369.00 171.77 L370.00 172.21 L371.00 172.65 L372.00 173.08 L373.00 173.52 L374.00 173.95 L375.00 174.38 L376.00 174.80 L377.00 175.23 L378.00 175.66 L379.00 176.08 L380.00 176.50 L381.00 176.92 L382.00 177.34 L383.00 177.75 L384.00 178.17 L385.00 178.58 L386.00 178.99 L387.00 179.40 L387.60 179.64" fill="none" stroke="#00ff00" stroke-width="1.0" stroke-dasharray="5.0 3.8" stroke-linejoin="round"/><path d="M69.90 73.32 L70.15 73.13 L70.40 72.94 L70.65 72.76 L70.90 72.60 L71.15 72.46 L71.40 72.35 L71.65 72.26 L71.90 72.18 L72.15 72.11 L72.40 72.04 L72.65 71.97 L72.90 71.91 L73.15 71.86 L73.40 71.81 L73.65 71.76 L73.90 71.72 L74.15 71.68 L74.40 71.64 L74.65 71.61 L74.90 71.58 L75.15 71.56 L75.40 71.54 L75.65 71.52 L75.90 71.51 L76.15 71.50 L76.40 71.50 L76.65 71.49 L76.90 71.48 L77.15 71.48 L77.40 71.48 L77.65 71.48 L77.90 71.47 L78.15 71.47 L78.40 71.47 L78.65 71.47 L78.90 71.47 L79.15 71.48 L79.40 71.48 L79.65 71.48 L79.90 71.49 L80.15 71.49 L80.40 71.50 L80.65 71.50 L80.90 71.51 L81.15 71.52 L81.40 71.52 L81.65 71.53 L81.90 71.54 L82.15 71.55 L82.40 71.56 L82.65 71.57 L82.90 71.58 L83.15 71.59 L83.40 71.60 L83.65 71.62 L83.90 71.63 L84.15 71.64 L84.40 71.66 L84.65 71.67 L84.90 71.69 L85.15 71.70 L85.40 71.72 L85.65 71.73 L85.90 71.75 L86.15 71.76 L86.40 71.78 L86.65 71.80 L86.90 71.82 L87.15 71.84 L87.40 71.85 L87.65 71.87 L87.90 71.89 L88.15 71.91 L88.40 71.93 L88.65 71.95 L88.90 71.98 L89.15 72.00 L89.40 72.02 L89.65 72.04 L89.90 72.06 L90.00 72.07 L91.00 72.17 L92.00 72.27 L93.00 72.37 L94.00 72.48 L95.00 72.60 L96.00 72.72 L97.00 72.84 L98.00 72.97 L99.00 73.11 L100.00 73.25 L101.00 73.39 L102.00 73.54 L103.00 73.70 L104.00 73.86 L105.00 74.03 L106.00 74.21 L107.00 74.39 L108.00 74.57 L109.00 74.76 L110.00 74.96 L111.00 75.16 L112.00 75.36 L113.00 75.56 L114.00 75.77 L115.00 75.98 L116.00 76.19 L117.00 76.40 L118.00 76.61 L119.00 76.82 L120.00 77.02 L121.00 77.23 L122.00 77.45 L123.00 77.67 L124.00 77.89 L125.00 78.11 L126.00 78.34 L127.00 78.57 L128.00 78.80 L129.00 79.04 L130.00 79.28 L131.00 79.52 L132.00 79.77 L133.00 80.02 L134.00 80.27 L135.00 80.53 L136.00 80.79 L137.00 81.05 L138.00 81.32 L139.00 81.59 L140.00 81.86 L141.00 82.14 L142.00 82.42 L143.00 82.70 L144.00 82.99 L145.00 83.28 L146.00 83.57 L147.00 83.86 L148.00 84.16 L149.00 84.46 L150.00 84.77 L151.00 85.08 L152.00 85.39 L153.00 85.70 L154.00 86.02 L155.00 86.34 L156.00 86.66 L157.00 86.99 L158.00 87.32 L159.00 87.65 L160.00 87.99 L161.00 88.33 L162.00 88.67 L163.00 89.02 L164.00 89.37 L165.00 89.73 L166.00 90.09 L167.00 90.46 L168.00 90.82 L169.00 91.19 L170.00 91.57 L171.00 91.95 L172.00 92.33 L173.00 92.71 L174.00 93.10 L175.00 93.49 L176.00 93.88 L177.00 94.28 L178.00 94.68 L179.00 95.08 L180.00 95.48 L181.00 95.88 L182.00 96.29 L183.00 96.70 L184.00 97.11 L185.00 97.52 L186.00 97.94 L187.00 98.36 L188.00 98.77 L189.00 99.19 L190.00 99.61 L191.00 100.03 L192.00 100.46 L193.00 100.88 L194.00 101.30 L195.00 101.73 L196.00 102.15 L197.00 102.58 L198.00 103.01 L199.00 103.43 L200.00 103.86 L201.00 104.29 L202.00 104.72 L203.00 105.14 L204.00 105.57 L205.00 106.00 L206.00 106.43 L207.00 106.86 L208.00 107.29 L209.00 107.72 L210.00 108.15 L211.00 108.58 L212.00 109.01 L213.00 109.45 L214.00 109.88 L215.00 110.32 L216.00 110.76 L217.00 111.19 L218.00 111.63 L219.00 112.07 L220.00 112.51 L221.00 112.95 L222.00 113.40 L223.00 113.84 L224.00 114.29 L225.00 114.73 L226.00 115.18 L227.00 115.63 L228.00 116.08 L229.00 116.53 L230.00 116.98 L231.00 117.43 L232.00 117.88 L233.00 118.34 L234.00 118.80 L235.00 119.25 L236.00 119.71 L237.00 120.17 L238.00 120.64 L239.00 121.10 L240.00 121.56 L241.00 122.03 L242.00 122.50 L243.00 122.96 L244.00 123.43 L245.00 123.91 L246.00 124.38 L247.00 124.85 L248.00 125.32 L249.00 125.80 L250.00 126.27 L251.00 126.75 L252.00 127.23 L253.00 127.70 L254.00 128.18 L255.00 128.66 L256.00 129.14 L257.00 129.62 L258.00 130.10 L259.00 130.58 L260.00 131.06 L261.00 131.55 L262.00 132.03 L263.00 132.51 L264.00 132.99 L265.00 133.48 L266.00 133.96 L267.00 134.44 L268.00 134.93 L269.00 135.41 L270.00 135.89 L271.00 136.38 L272.00 136.86 L273.00 137.35 L274.00 137.83 L275.00 138.31 L276.00 138.80 L277.00 139.28 L278.00 139.76 L279.00 140.25 L280.00 140.73 L281.00 141.21 L282.00 141.70 L283.00 142.18 L284.00 142.66 L285.00 143.14 L286.00 143.62 L287.00 144.09 L288.00 144.56 L289.00 145.03 L290.00 145.50 L291.00 145.97 L292.00 146.43 L293.00 146.89 L294.00 147.35 L295.00 147.81 L296.00 148.27 L297.00 148.72 L298.00 149.18 L299.00 149.63 L300.00 150.08 L301.00 150.53 L302.00 150.99 L303.00 151.44 L304.00 151.89 L305.00 152.34 L306.00 152.79 L307.00 153.23 L308.00 153.68 L309.00 154.13 L310.00 154.58 L311.00 155.03 L312.00 155.49 L313.00 155.94 L314.00 156.39 L315.00 156.84 L316.00 157.30 L317.00 157.75 L318.00 158.21 L319.00 158.67 L320.00 159.13 L321.00 159.59 L322.00 160.06 L323.00 160.52 L324.00 160.99 L325.00 161.46 L326.00 161.92 L327.00 162.39 L328.00 162.85 L329.00 163.31 L330.00 163.78 L331.00 164.24 L332.00 164.70 L333.00 165.16 L334.00 165.62 L335.00 166.08 L336.00 166.54 L337.00 166.99 L338.00 167.45 L339.00 167.91 L340.00 168.36 L341.00 168.82 L342.00 169.27 L343.00 169.72 L344.00 170.17 L345.00 170.62 L346.00 171.07 L347.00 171.52 L348.00 171.97 L349.00 172.42 L350.00 172.86 L351.00 173.31 L352.00 173.75 L353.00 174.19 L354.00 174.64 L355.00 175.08 L356.00 175.52 L357.00 175.96 L358.00 176.40 L359.00 176.83 L360.00 177.27 L361.00 177.70 L362.00 178.14 L363.00 178.57 L364.00 179.00 L365.00 179.43 L366.00 179.86 L367.00 180.29 L368.00 180.72 L369.00 181.14 L370.00 181.57 L371.00 181.99 L372.00 182.42 L373.00 182.84 L374.00 183.26 L375.00 183.68 L376.00 184.10 L377.00 184.51 L378.00 184.93 L379.00 185.34 L380.00 185.76 L381.00 186.17 L382.00 186.58 L383.00 186.99 L384.00 187.40 L385.00 187.80 L386.00 188.21 L387.00 188.61 L387.60 188.86" fill="none" stroke="#996633" stroke-width="2.4" stroke-linejoin="round"/><path d="M70.40 76.30 L70.65 76.15 L70.90 76.03 L71.15 75.92 L71.40 75.82 L71.65 75.74 L71.90 75.66 L72.15 75.60 L72.40 75.54 L72.65 75.49 L72.90 75.45 L73.15 75.41 L73.40 75.38 L73.65 75.35 L73.90 75.33 L74.15 75.31 L74.40 75.29 L74.65 75.28 L74.90 75.27 L75.15 75.26 L75.40 75.26 L75.65 75.26 L75.90 75.26 L76.15 75.26 L76.40 75.26 L76.65 75.26 L76.90 75.27 L77.15 75.28 L77.40 75.28 L77.65 75.29 L77.90 75.30 L78.15 75.31 L78.40 75.32 L78.65 75.34 L78.90 75.35 L79.15 75.36 L79.40 75.38 L79.65 75.39 L79.90 75.40 L80.15 75.42 L80.40 75.43 L80.65 75.45 L80.90 75.47 L81.15 75.48 L81.40 75.50 L81.65 75.51 L81.90 75.53 L82.15 75.55 L82.40 75.57 L82.65 75.59 L82.90 75.61 L83.15 75.63 L83.40 75.65 L83.65 75.67 L83.90 75.69 L84.15 75.71 L84.40 75.73 L84.65 75.75 L84.90 75.78 L85.15 75.80 L85.40 75.82 L85.65 75.85 L85.90 75.87 L86.15 75.89 L86.40 75.92 L86.65 75.94 L86.90 75.97 L87.15 75.99 L87.40 76.02 L87.65 76.05 L87.90 76.07 L88.15 76.10 L88.40 76.13 L88.65 76.15 L88.90 76.18 L89.15 76.21 L89.40 76.24 L89.65 76.26 L89.90 76.29 L90.00 76.30 L91.00 76.42 L92.00 76.54 L93.00 76.66 L94.00 76.79 L95.00 76.92 L96.00 77.05 L97.00 77.19 L98.00 77.33 L99.00 77.47 L100.00 77.62 L101.00 77.76 L102.00 77.92 L103.00 78.07 L104.00 78.23 L105.00 78.39 L106.00 78.55 L107.00 78.72 L108.00 78.89 L109.00 79.06 L110.00 79.24 L111.00 79.41 L112.00 79.60 L113.00 79.78 L114.00 79.97 L115.00 80.16 L116.00 80.35 L117.00 80.55 L118.00 80.75 L119.00 80.95 L120.00 81.15 L121.00 81.36 L122.00 81.57 L123.00 81.78 L124.00 82.00 L125.00 82.22 L126.00 82.44 L127.00 82.67 L128.00 82.90 L129.00 83.13 L130.00 83.36 L131.00 83.60 L132.00 83.84 L133.00 84.09 L134.00 84.33 L135.00 84.58 L136.00 84.83 L137.00 85.09 L138.00 85.35 L139.00 85.61 L140.00 85.88 L141.00 86.15 L142.00 86.42 L143.00 86.69 L144.00 86.97 L145.00 87.25 L146.00 87.53 L147.00 87.82 L148.00 88.11 L149.00 88.40 L150.00 88.70 L151.00 89.00 L152.00 89.30 L153.00 89.61 L154.00 89.91 L155.00 90.22 L156.00 90.54 L157.00 90.85 L158.00 91.17 L159.00 91.50 L160.00 91.82 L161.00 92.15 L162.00 92.48 L163.00 92.81 L164.00 93.15 L165.00 93.49 L166.00 93.83 L167.00 94.17 L168.00 94.52 L169.00 94.87 L170.00 95.22 L171.00 95.57 L172.00 95.93 L173.00 96.29 L174.00 96.65 L175.00 97.02 L176.00 97.38 L177.00 97.75 L178.00 98.12 L179.00 98.50 L180.00 98.87 L181.00 99.25 L182.00 99.63 L183.00 100.01 L184.00 100.40 L185.00 100.79 L186.00 101.17 L187.00 101.57 L188.00 101.96 L189.00 102.35 L190.00 102.75 L191.00 103.15 L192.00 103.55 L193.00 103.96 L194.00 104.36 L195.00 104.77 L196.00 105.18 L197.00 105.59 L198.00 106.00 L199.00 106.41 L200.00 106.83 L201.00 107.25 L202.00 107.67 L203.00 108.09 L204.00 108.51 L205.00 108.94 L206.00 109.36 L207.00 109.79 L208.00 110.22 L209.00 110.65 L210.00 111.08 L211.00 111.51 L212.00 111.94 L213.00 112.38 L214.00 112.82 L215.00 113.25 L216.00 113.69 L217.00 114.13 L218.00 114.57 L219.00 115.02 L220.00 115.46 L221.00 115.91 L222.00 116.35 L223.00 116.80 L224.00 117.25 L225.00 117.70 L226.00 118.16 L227.00 118.61 L228.00 119.06 L229.00 119.52 L230.00 119.97 L231.00 120.43 L232.00 120.89 L233.00 121.35 L234.00 121.81 L235.00 122.27 L236.00 122.73 L237.00 123.20 L238.00 123.66 L239.00 124.12 L240.00 124.59 L241.00 125.06 L242.00 125.52 L243.00 125.99 L244.00 126.46 L245.00 126.93 L246.00 127.40 L247.00 127.87 L248.00 128.34 L249.00 128.81 L250.00 129.28 L251.00 129.75 L252.00 130.23 L253.00 130.70 L254.00 131.17 L255.00 131.65 L256.00 132.12 L257.00 132.60 L258.00 133.07 L259.00 133.55 L260.00 134.02 L261.00 134.50 L262.00 134.98 L263.00 135.45 L264.00 135.93 L265.00 136.41 L266.00 136.88 L267.00 137.36 L268.00 137.84 L269.00 138.31 L270.00 138.79 L271.00 139.27 L272.00 139.74 L273.00 140.22 L274.00 140.70 L275.00 141.18 L276.00 141.65 L277.00 142.13 L278.00 142.61 L279.00 143.08 L280.00 143.56 L281.00 144.03 L282.00 144.51 L283.00 144.99 L284.00 145.46 L285.00 145.94 L286.00 146.41 L287.00 146.89 L288.00 147.36 L289.00 147.83 L290.00 148.31 L291.00 148.78 L292.00 149.25 L293.00 149.73 L294.00 150.20 L295.00 150.67 L296.00 151.14 L297.00 151.61 L298.00 152.08 L299.00 152.55 L300.00 153.02 L301.00 153.49 L302.00 153.96 L303.00 154.43 L304.00 154.89 L305.00 155.36 L306.00 155.83 L307.00 156.29 L308.00 156.75 L309.00 157.22 L310.00 157.68 L311.00 158.14 L312.00 158.61 L313.00 159.07 L314.00 159.53 L315.00 159.99 L316.00 160.45 L317.00 160.90 L318.00 161.36 L319.00 161.82 L320.00 162.28 L321.00 162.73 L322.00 163.19 L323.00 163.64 L324.00 164.09 L325.00 164.55 L326.00 165.00 L327.00 165.45 L328.00 165.90 L329.00 166.35 L330.00 166.80 L331.00 167.25 L332.00 167.70 L333.00 168.15 L334.00 168.59 L335.00 169.04 L336.00 169.49 L337.00 169.93 L338.00 170.37 L339.00 170.82 L340.00 171.26 L341.00 171.70 L342.00 172.15 L343.00 172.59 L344.00 173.03 L345.00 173.47 L346.00 173.91 L347.00 174.35 L348.00 174.79 L349.00 175.23 L350.00 175.67 L351.00 176.10 L352.00 176.54 L353.00 176.98 L354.00 177.41 L355.00 177.85 L356.00 178.29 L357.00 178.72 L358.00 179.16 L359.00 179.59 L360.00 180.03 L361.00 180.46 L362.00 180.90 L363.00 181.33 L364.00 181.77 L365.00 182.20 L366.00 182.63 L367.00 183.07 L368.00 183.50 L369.00 183.93 L370.00 184.37 L371.00 184.80 L372.00 185.24 L373.00 185.67 L374.00 186.10 L375.00 186.54 L376.00 186.97 L377.00 187.41 L378.00 187.84 L379.00 188.28 L380.00 188.71 L381.00 189.15 L382.00 189.58 L383.00 190.02 L384.00 190.46 L385.00 190.90 L386.00 191.33 L387.00 191.77 L387.60 192.04" fill="none" stroke="#996633" stroke-width="1.0" stroke-dasharray="5.0 3.8" stroke-linejoin="round"/><path d="M69.50 95.00 L69.75 94.99 L70.00 94.97 L70.25 94.96 L70.50 94.95 L70.75 94.95 L71.00 94.94 L71.25 94.94 L71.50 94.93 L71.75 94.93 L72.00 94.93 L72.25 94.93 L72.50 94.93 L72.75 94.93 L73.00 94.93 L73.25 94.94 L73.50 94.94 L73.75 94.94 L74.00 94.95 L74.25 94.95 L74.50 94.95 L74.75 94.96 L75.00 94.96 L75.25 94.97 L75.50 94.97 L75.75 94.98 L76.00 94.98 L76.25 94.99 L76.50 94.99 L76.75 95.00 L77.00 95.01 L77.25 95.02 L77.50 95.02 L77.75 95.03 L78.00 95.04 L78.25 95.05 L78.50 95.06 L78.75 95.07 L79.00 95.08 L79.25 95.09 L79.50 95.10 L79.75 95.11 L80.00 95.12 L80.25 95.13 L80.50 95.15 L80.75 95.16 L81.00 95.17 L81.25 95.18 L81.50 95.20 L81.75 95.21 L82.00 95.22 L82.25 95.24 L82.50 95.25 L82.75 95.27 L83.00 95.28 L83.25 95.30 L83.50 95.31 L83.75 95.33 L84.00 95.34 L84.25 95.36 L84.50 95.37 L84.75 95.39 L85.00 95.41 L85.25 95.42 L85.50 95.44 L85.75 95.46 L86.00 95.48 L86.25 95.50 L86.50 95.51 L86.75 95.53 L87.00 95.55 L87.25 95.57 L87.50 95.59 L87.75 95.61 L88.00 95.63 L88.25 95.65 L88.50 95.67 L88.75 95.69 L89.00 95.71 L89.25 95.73 L89.50 95.75 L89.75 95.78 L90.00 95.80 L91.00 95.89 L92.00 95.98 L93.00 96.08 L94.00 96.18 L95.00 96.29 L96.00 96.40 L97.00 96.51 L98.00 96.63 L99.00 96.75 L100.00 96.87 L101.00 97.00 L102.00 97.13 L103.00 97.27 L104.00 97.41 L105.00 97.55 L106.00 97.69 L107.00 97.84 L108.00 97.99 L109.00 98.15 L110.00 98.31 L111.00 98.47 L112.00 98.64 L113.00 98.81 L114.00 98.98 L115.00 99.15 L116.00 99.33 L117.00 99.52 L118.00 99.70 L119.00 99.89 L120.00 100.08 L121.00 100.27 L122.00 100.47 L123.00 100.67 L124.00 100.88 L125.00 101.08 L126.00 101.29 L127.00 101.50 L128.00 101.72 L129.00 101.94 L130.00 102.16 L131.00 102.38 L132.00 102.61 L133.00 102.83 L134.00 103.07 L135.00 103.30 L136.00 103.54 L137.00 103.78 L138.00 104.02 L139.00 104.27 L140.00 104.52 L141.00 104.77 L142.00 105.03 L143.00 105.29 L144.00 105.55 L145.00 105.81 L146.00 106.08 L147.00 106.35 L148.00 106.62 L149.00 106.89 L150.00 107.17 L151.00 107.45 L152.00 107.73 L153.00 108.02 L154.00 108.31 L155.00 108.60 L156.00 108.90 L157.00 109.20 L158.00 109.50 L159.00 109.80 L160.00 110.11 L161.00 110.42 L162.00 110.73 L163.00 111.04 L164.00 111.36 L165.00 111.68 L166.00 112.00 L167.00 112.33 L168.00 112.66 L169.00 112.99 L170.00 113.32 L171.00 113.66 L172.00 114.00 L173.00 114.34 L174.00 114.69 L175.00 115.03 L176.00 115.38 L177.00 115.73 L178.00 116.08 L179.00 116.44 L180.00 116.79 L181.00 117.15 L182.00 117.51 L183.00 117.88 L184.00 118.24 L185.00 118.61 L186.00 118.98 L187.00 119.35 L188.00 119.72 L189.00 120.09 L190.00 120.47 L191.00 120.84 L192.00 121.22 L193.00 121.60 L194.00 121.98 L195.00 122.36 L196.00 122.75 L197.00 123.13 L198.00 123.52 L199.00 123.90 L200.00 124.29 L201.00 124.68 L202.00 125.07 L203.00 125.46 L204.00 125.85 L205.00 126.25 L206.00 126.64 L207.00 127.04 L208.00 127.44 L209.00 127.84 L210.00 128.24 L211.00 128.64 L212.00 129.04 L213.00 129.45 L214.00 129.85 L215.00 130.26 L216.00 130.67 L217.00 131.08 L218.00 131.49 L219.00 131.90 L220.00 132.31 L221.00 132.73 L222.00 133.14 L223.00 133.56 L224.00 133.98 L225.00 134.40 L226.00 134.82 L227.00 135.24 L228.00 135.66 L229.00 136.08 L230.00 136.51 L231.00 136.93 L232.00 137.36 L233.00 137.79 L234.00 138.21 L235.00 138.64 L236.00 139.07 L237.00 139.50 L238.00 139.93 L239.00 140.37 L240.00 140.80 L241.00 141.23 L242.00 141.67 L243.00 142.10 L244.00 142.54 L245.00 142.97 L246.00 143.41 L247.00 143.85 L248.00 144.29 L249.00 144.73 L250.00 145.17 L251.00 145.60 L252.00 146.04 L253.00 146.47 L254.00 146.91 L255.00 147.35 L256.00 147.79 L257.00 148.22 L258.00 148.66 L259.00 149.10 L260.00 149.54 L261.00 149.98 L262.00 150.42 L263.00 150.86 L264.00 151.30 L265.00 151.75 L266.00 152.19 L267.00 152.63 L268.00 153.07 L269.00 153.51 L270.00 153.96 L271.00 154.40 L272.00 154.84 L273.00 155.29 L274.00 155.73 L275.00 156.17 L276.00 156.62 L277.00 157.06 L278.00 157.50 L279.00 157.95 L280.00 158.39 L281.00 158.84 L282.00 159.28 L283.00 159.73 L284.00 160.17 L285.00 160.61 L286.00 161.06 L287.00 161.50 L288.00 161.94 L289.00 162.39 L290.00 162.83 L291.00 163.27 L292.00 163.71 L293.00 164.15 L294.00 164.59 L295.00 165.03 L296.00 165.48 L297.00 165.91 L298.00 166.35 L299.00 166.79 L300.00 167.23 L301.00 167.67 L302.00 168.11 L303.00 168.54 L304.00 168.98 L305.00 169.42 L306.00 169.85 L307.00 170.29 L308.00 170.72 L309.00 171.15 L310.00 171.59 L311.00 172.02 L312.00 172.45 L313.00 172.88 L314.00 173.32 L315.00 173.75 L316.00 174.18 L317.00 174.60 L318.00 175.03 L319.00 175.46 L320.00 175.89 L321.00 176.31 L322.00 176.74 L323.00 177.17 L324.00 177.59 L325.00 178.01 L326.00 178.44 L327.00 178.86 L328.00 179.28 L329.00 179.70 L330.00 180.12 L331.00 180.54 L332.00 180.96 L333.00 181.38 L334.00 181.79 L335.00 182.21 L336.00 182.62 L337.00 183.04 L338.00 183.45 L339.00 183.86 L340.00 184.28 L341.00 184.69 L342.00 185.10 L343.00 185.51 L344.00 185.91 L345.00 186.32 L346.00 186.73 L347.00 187.13 L348.00 187.53 L349.00 187.94 L350.00 188.34 L351.00 188.74 L352.00 189.14 L353.00 189.53 L354.00 189.93 L355.00 190.33 L356.00 190.72 L357.00 191.11 L358.00 191.50 L359.00 191.89 L360.00 192.28 L361.00 192.67 L362.00 193.06 L363.00 193.44 L364.00 193.83 L365.00 194.21 L366.00 194.59 L367.00 194.97 L368.00 195.35 L369.00 195.72 L370.00 196.10 L371.00 196.47 L372.00 196.85 L373.00 197.22 L374.00 197.59 L375.00 197.95 L376.00 198.32 L377.00 198.68 L378.00 199.05 L379.00 199.41 L380.00 199.77 L381.00 200.13 L382.00 200.49 L383.00 200.84 L384.00 201.19 L385.00 201.55 L386.00 201.90 L387.00 202.25 L387.60 202.45" fill="none" stroke="#0000ff" stroke-width="1.0" stroke-dasharray="5.0 3.8" stroke-linejoin="round"/><path d="M69.50 93.70 L69.75 93.69 L70.00 93.67 L70.25 93.66 L70.50 93.65 L70.75 93.65 L71.00 93.64 L71.25 93.64 L71.50 93.63 L71.75 93.63 L72.00 93.63 L72.25 93.63 L72.50 93.63 L72.75 93.63 L73.00 93.63 L73.25 93.64 L73.50 93.64 L73.75 93.64 L74.00 93.65 L74.25 93.65 L74.50 93.65 L74.75 93.66 L75.00 93.66 L75.25 93.67 L75.50 93.67 L75.75 93.68 L76.00 93.68 L76.25 93.69 L76.50 93.69 L76.75 93.70 L77.00 93.71 L77.25 93.72 L77.50 93.72 L77.75 93.73 L78.00 93.74 L78.25 93.75 L78.50 93.76 L78.75 93.77 L79.00 93.78 L79.25 93.79 L79.50 93.80 L79.75 93.81 L80.00 93.82 L80.25 93.83 L80.50 93.85 L80.75 93.86 L81.00 93.87 L81.25 93.88 L81.50 93.90 L81.75 93.91 L82.00 93.92 L82.25 93.94 L82.50 93.95 L82.75 93.97 L83.00 93.98 L83.25 94.00 L83.50 94.01 L83.75 94.03 L84.00 94.04 L84.25 94.06 L84.50 94.07 L84.75 94.09 L85.00 94.11 L85.25 94.12 L85.50 94.14 L85.75 94.16 L86.00 94.18 L86.25 94.20 L86.50 94.21 L86.75 94.23 L87.00 94.25 L87.25 94.27 L87.50 94.29 L87.75 94.31 L88.00 94.33 L88.25 94.35 L88.50 94.37 L88.75 94.39 L89.00 94.41 L89.25 94.43 L89.50 94.45 L89.75 94.48 L90.00 94.50 L91.00 94.59 L92.00 94.68 L93.00 94.78 L94.00 94.88 L95.00 94.99 L96.00 95.10 L97.00 95.21 L98.00 95.33 L99.00 95.45 L100.00 95.57 L101.00 95.70 L102.00 95.83 L103.00 95.97 L104.00 96.11 L105.00 96.25 L106.00 96.39 L107.00 96.54 L108.00 96.69 L109.00 96.85 L110.00 97.01 L111.00 97.17 L112.00 97.34 L113.00 97.51 L114.00 97.68 L115.00 97.85 L116.00 98.03 L117.00 98.22 L118.00 98.40 L119.00 98.59 L120.00 98.78 L121.00 98.97 L122.00 99.17 L123.00 99.37 L124.00 99.58 L125.00 99.78 L126.00 99.99 L127.00 100.20 L128.00 100.42 L129.00 100.64 L130.00 100.86 L131.00 101.08 L132.00 101.31 L133.00 101.53 L134.00 101.77 L135.00 102.00 L136.00 102.24 L137.00 102.48 L138.00 102.72 L139.00 102.97 L140.00 103.22 L141.00 103.47 L142.00 103.73 L143.00 103.99 L144.00 104.25 L145.00 104.51 L146.00 104.78 L147.00 105.05 L148.00 105.32 L149.00 105.59 L150.00 105.87 L151.00 106.15 L152.00 106.43 L153.00 106.72 L154.00 107.01 L155.00 107.30 L156.00 107.60 L157.00 107.90 L158.00 108.20 L159.00 108.50 L160.00 108.81 L161.00 109.12 L162.00 109.43 L163.00 109.74 L164.00 110.06 L165.00 110.38 L166.00 110.70 L167.00 111.03 L168.00 111.36 L169.00 111.69 L170.00 112.02 L171.00 112.36 L172.00 112.70 L173.00 113.04 L174.00 113.39 L175.00 113.73 L176.00 114.08 L177.00 114.43 L178.00 114.78 L179.00 115.14 L180.00 115.49 L181.00 115.85 L182.00 116.21 L183.00 116.58 L184.00 116.94 L185.00 117.31 L186.00 117.68 L187.00 118.05 L188.00 118.42 L189.00 118.79 L190.00 119.17 L191.00 119.54 L192.00 119.92 L193.00 120.30 L194.00 120.68 L195.00 121.06 L196.00 121.45 L197.00 121.83 L198.00 122.22 L199.00 122.60 L200.00 122.99 L201.00 123.38 L202.00 123.77 L203.00 124.16 L204.00 124.55 L205.00 124.95 L206.00 125.34 L207.00 125.74 L208.00 126.14 L209.00 126.54 L210.00 126.94 L211.00 127.34 L212.00 127.74 L213.00 128.15 L214.00 128.55 L215.00 128.96 L216.00 129.37 L217.00 129.78 L218.00 130.19 L219.00 130.60 L220.00 131.01 L221.00 131.43 L222.00 131.84 L223.00 132.26 L224.00 132.68 L225.00 133.10 L226.00 133.52 L227.00 133.94 L228.00 134.36 L229.00 134.78 L230.00 135.21 L231.00 135.63 L232.00 136.06 L233.00 136.49 L234.00 136.91 L235.00 137.34 L236.00 137.77 L237.00 138.20 L238.00 138.63 L239.00 139.07 L240.00 139.50 L241.00 139.93 L242.00 140.37 L243.00 140.80 L244.00 141.24 L245.00 141.67 L246.00 142.11 L247.00 142.55 L248.00 142.99 L249.00 143.43 L250.00 143.87 L251.00 144.31 L252.00 144.75 L253.00 145.19 L254.00 145.63 L255.00 146.07 L256.00 146.52 L257.00 146.96 L258.00 147.40 L259.00 147.85 L260.00 148.29 L261.00 148.74 L262.00 149.18 L263.00 149.63 L264.00 150.07 L265.00 150.52 L266.00 150.97 L267.00 151.42 L268.00 151.86 L269.00 152.31 L270.00 152.76 L271.00 153.21 L272.00 153.65 L273.00 154.10 L274.00 154.55 L275.00 155.00 L276.00 155.45 L277.00 155.90 L278.00 156.35 L279.00 156.80 L280.00 157.25 L281.00 157.69 L282.00 158.14 L283.00 158.59 L284.00 159.04 L285.00 159.49 L286.00 159.94 L287.00 160.39 L288.00 160.84 L289.00 161.28 L290.00 161.73 L291.00 162.18 L292.00 162.63 L293.00 163.07 L294.00 163.52 L295.00 163.96 L296.00 164.41 L297.00 164.85 L298.00 165.30 L299.00 165.74 L300.00 166.18 L301.00 166.63 L302.00 167.07 L303.00 167.51 L304.00 167.95 L305.00 168.39 L306.00 168.84 L307.00 169.28 L308.00 169.71 L309.00 170.15 L310.00 170.59 L311.00 171.03 L312.00 171.47 L313.00 171.90 L314.00 172.34 L315.00 172.78 L316.00 173.21 L317.00 173.64 L318.00 174.08 L319.00 174.51 L320.00 174.94 L321.00 175.37 L322.00 175.81 L323.00 176.24 L324.00 176.66 L325.00 177.09 L326.00 177.52 L327.00 177.95 L328.00 178.38 L329.00 178.80 L330.00 179.23 L331.00 179.65 L332.00 180.07 L333.00 180.50 L334.00 180.92 L335.00 181.34 L336.00 181.76 L337.00 182.18 L338.00 182.60 L339.00 183.02 L340.00 183.43 L341.00 183.85 L342.00 184.26 L343.00 184.68 L344.00 185.09 L345.00 185.50 L346.00 185.91 L347.00 186.32 L348.00 186.73 L349.00 187.14 L350.00 187.54 L351.00 187.95 L352.00 188.35 L353.00 188.76 L354.00 189.16 L355.00 189.56 L356.00 189.96 L357.00 190.35 L358.00 190.75 L359.00 191.15 L360.00 191.54 L361.00 191.93 L362.00 192.33 L363.00 192.72 L364.00 193.10 L365.00 193.49 L366.00 193.88 L367.00 194.26 L368.00 194.65 L369.00 195.03 L370.00 195.41 L371.00 195.79 L372.00 196.16 L373.00 196.54 L374.00 196.91 L375.00 197.29 L376.00 197.66 L377.00 198.03 L378.00 198.40 L379.00 198.76 L380.00 199.13 L381.00 199.49 L382.00 199.86 L383.00 200.22 L384.00 200.57 L385.00 200.93 L386.00 201.29 L387.00 201.64 L387.60 201.85" fill="none" stroke="#0000ff" stroke-width="2.5" stroke-linejoin="round"/></g>
<path d="M57.5 0.0 V208.5 H394.0" fill="none" stroke="#626262" stroke-width="0.75" stroke-linecap="square"/><path d="M57.5 0.5 H393.5 V208.5" fill="none" stroke="#858585" stroke-width="0.75" stroke-linecap="square"/>
<path d="M63.50 208.5 v-3.8 M63.50 0.5 v4.2 M83.44 208.5 v-2.2 M103.38 208.5 v-2.2 M123.31 208.5 v-2.2 M143.25 208.5 v-3.8 M143.25 0.5 v4.2 M163.19 208.5 v-2.2 M183.12 208.5 v-2.2 M203.06 208.5 v-2.2 M223.00 208.5 v-3.8 M223.00 0.5 v4.2 M242.94 208.5 v-2.2 M262.88 208.5 v-2.2 M282.81 208.5 v-2.2 M302.75 208.5 v-3.8 M302.75 0.5 v4.2 M322.69 208.5 v-2.2 M342.62 208.5 v-2.2 M362.56 208.5 v-2.2 M382.50 208.5 v-3.8 M382.50 0.5 v4.2 M57.5 201.50 h3.5 M393.5 201.50 h-3.5 M57.5 192.35 h2.2 M393.5 192.35 h-2.2 M57.5 183.20 h2.2 M393.5 183.20 h-2.2 M57.5 174.05 h2.2 M393.5 174.05 h-2.2 M57.5 164.90 h3.5 M393.5 164.90 h-3.5 M57.5 155.75 h2.2 M393.5 155.75 h-2.2 M57.5 146.60 h2.2 M393.5 146.60 h-2.2 M57.5 137.45 h2.2 M393.5 137.45 h-2.2 M57.5 128.30 h3.5 M393.5 128.30 h-3.5 M57.5 119.15 h2.2 M393.5 119.15 h-2.2 M57.5 110.00 h2.2 M393.5 110.00 h-2.2 M57.5 100.85 h2.2 M393.5 100.85 h-2.2 M57.5 91.70 h3.5 M393.5 91.70 h-3.5 M57.5 82.55 h2.2 M393.5 82.55 h-2.2 M57.5 73.40 h2.2 M393.5 73.40 h-2.2 M57.5 64.25 h2.2 M393.5 64.25 h-2.2 M57.5 55.10 h3.5 M393.5 55.10 h-3.5 M57.5 45.95 h2.2 M393.5 45.95 h-2.2 M57.5 36.80 h2.2 M393.5 36.80 h-2.2 M57.5 27.65 h2.2 M393.5 27.65 h-2.2 M57.5 18.50 h3.5 M393.5 18.50 h-3.5 M57.5 9.35 h2.2 M393.5 9.35 h-2.2" fill="none" stroke="#626262" stroke-width="0.75"/><path d="M83.44 0.5 v2.6 M103.38 0.5 v2.6 M123.31 0.5 v2.6 M163.19 0.5 v2.6 M183.12 0.5 v2.6 M203.06 0.5 v2.6 M242.94 0.5 v2.6 M262.88 0.5 v2.6 M282.81 0.5 v2.6 M322.69 0.5 v2.6 M342.62 0.5 v2.6 M362.56 0.5 v2.6" fill="none" stroke="#b0b0b0" stroke-width="0.75"/>
<g><text x="63.50" y="221.4" text-anchor="middle" font-size="10" fill="#0d0d0d" stroke="#0d0d0d" stroke-width="0">0</text><text x="143.25" y="221.4" text-anchor="middle" font-size="10" fill="#0d0d0d" stroke="#0d0d0d" stroke-width="0">2</text><text x="223.00" y="221.4" text-anchor="middle" font-size="10" fill="#0d0d0d" stroke="#0d0d0d" stroke-width="0">4</text><text x="302.75" y="221.4" text-anchor="middle" font-size="10" fill="#0d0d0d" stroke="#0d0d0d" stroke-width="0">6</text><text x="382.50" y="221.4" text-anchor="middle" font-size="10" fill="#0d0d0d" stroke="#0d0d0d" stroke-width="0">8</text><text x="54.0" y="204.55" text-anchor="end" font-size="10" fill="#0d0d0d" stroke="#0d0d0d" stroke-width="0">0.006</text><text x="54.0" y="167.95" text-anchor="end" font-size="10" fill="#0d0d0d" stroke="#0d0d0d" stroke-width="0">0.008</text><text x="54.0" y="131.35" text-anchor="end" font-size="10" fill="#0d0d0d" stroke="#0d0d0d" stroke-width="0">0.010</text><text x="54.0" y="94.75" text-anchor="end" font-size="10" fill="#0d0d0d" stroke="#0d0d0d" stroke-width="0">0.012</text><text x="54.0" y="58.15" text-anchor="end" font-size="10" fill="#0d0d0d" stroke="#0d0d0d" stroke-width="0">0.014</text><text x="54.0" y="21.55" text-anchor="end" font-size="10" fill="#0d0d0d" stroke="#0d0d0d" stroke-width="0">0.016</text><text x="225.25" y="247.0" text-anchor="middle" font-size="16.5" fill="#000" stroke="#000" stroke-width="0.25">r</text><g transform="translate(18 0) rotate(-90)"><text x="-138.6" y="0" font-size="18" font-style="italic" stroke="#000" stroke-width="0.08" fill="#000">ρ</text><text x="-129.0" y="-7.5" font-size="12" fill="#000">eff</text><path d="M-112.5 -5.1 h9.0" stroke="#000" stroke-width="1.0" fill="none"/><text x="-101.5" y="0" font-size="18" font-style="italic" stroke="#000" stroke-width="0.08" fill="#000">P</text><text x="-91.0" y="2.6" font-size="12" font-style="italic" fill="#000">r</text><text x="-85.8" y="-7.5" font-size="12" fill="#000">eff</text></g></g>
</svg>
</body></html>
